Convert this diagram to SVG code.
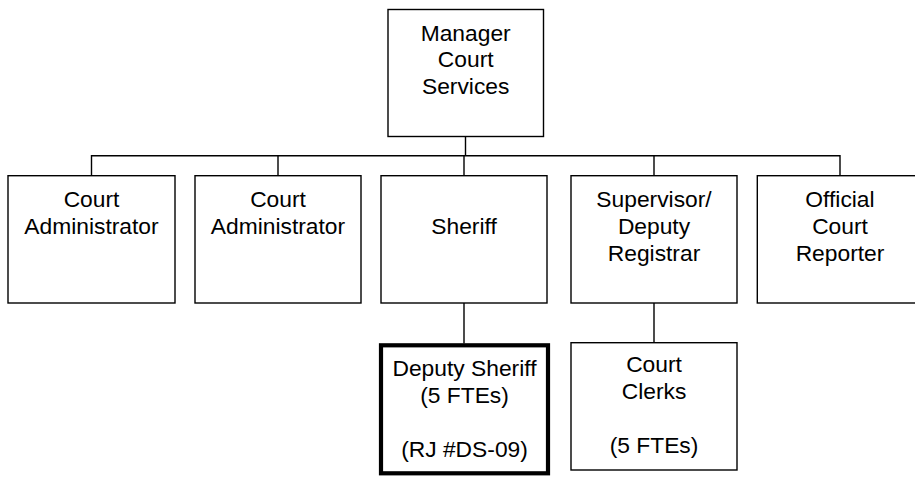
<svg xmlns="http://www.w3.org/2000/svg" width="915" height="477" viewBox="0 0 915 477">
<style>
.box{fill:#fff;stroke:#000;stroke-width:1.4}
.bold{fill:#fff;stroke:#000;stroke-width:4.2}
.lbl{font-family:"Liberation Sans",Arial,sans-serif;font-size:22.8px;fill:#000;text-anchor:middle}
.conn{fill:none;stroke:#000;stroke-width:1.4}
</style>
<rect width="915" height="477" fill="#fff"/>
<g id="connectors">
<path class="conn" d="M465.5,136.5V155.7 M91.5,175.7V155.7H840V175.7 M278,155.7V175.7 M464,155.7V175.7 M654,155.7V175.7 M464,303V343.5 M654,303V343"/>
</g>
<g id="manager">
<rect class="box" x="388" y="9.5" width="155.5" height="127"/>
<text class="lbl" x="465.7" y="40.5">Manager</text>
<text class="lbl" x="465.7" y="67">Court</text>
<text class="lbl" x="465.7" y="93.5">Services</text>
</g>
<g id="court-admin-1">
<rect class="box" x="8" y="175.7" width="167" height="127.3"/>
<text class="lbl" x="91.5" y="206.5">Court</text>
<text class="lbl" x="91.5" y="233.5">Administrator</text>
</g>
<g id="court-admin-2">
<rect class="box" x="195" y="175.7" width="166" height="127.3"/>
<text class="lbl" x="278" y="206.5">Court</text>
<text class="lbl" x="278" y="233.5">Administrator</text>
</g>
<g id="sheriff">
<rect class="box" x="381" y="175.7" width="166" height="127.3"/>
<text class="lbl" x="464" y="233.5">Sheriff</text>
</g>
<g id="supervisor">
<rect class="box" x="571" y="175.7" width="166" height="127.3"/>
<text class="lbl" x="654" y="206.5">Supervisor/</text>
<text class="lbl" x="654" y="233.5">Deputy</text>
<text class="lbl" x="654" y="260.5">Registrar</text>
</g>
<g id="reporter">
<rect class="box" x="757.3" y="175.7" width="166" height="127.3"/>
<text class="lbl" x="840" y="206.5">Official</text>
<text class="lbl" x="840" y="233.5">Court</text>
<text class="lbl" x="840" y="260.5">Reporter</text>
</g>
<g id="deputy-sheriff">
<rect class="bold" x="381" y="345.3" width="167" height="128"/>
<text class="lbl" x="464.5" y="375.5">Deputy Sheriff</text>
<text class="lbl" x="464.5" y="402.5">(5 FTEs)</text>
<text class="lbl" x="464.5" y="457">(RJ #DS-09)</text>
</g>
<g id="court-clerks">
<rect class="box" x="571" y="342.7" width="166" height="127.3"/>
<text class="lbl" x="654" y="371.5">Court</text>
<text class="lbl" x="654" y="398.5">Clerks</text>
<text class="lbl" x="654" y="453">(5 FTEs)</text>
</g>
</svg>
